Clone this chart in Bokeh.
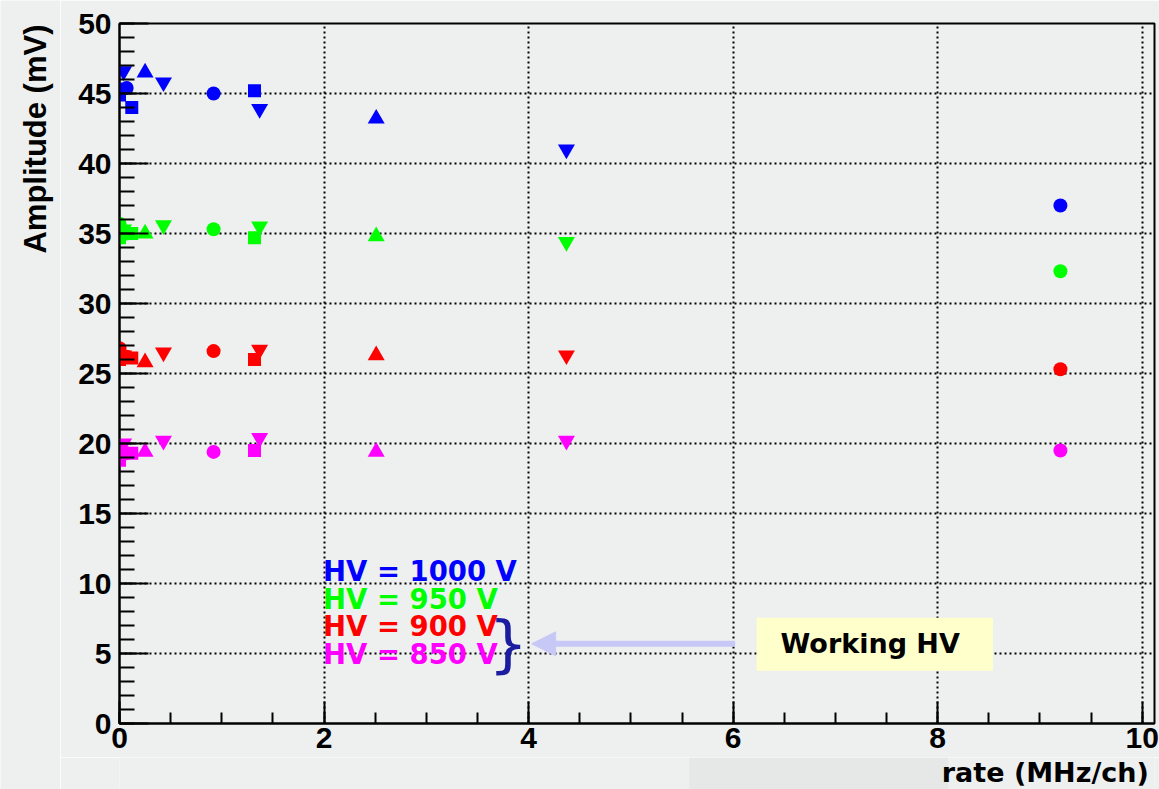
import math

from bokeh.plotting import figure
from bokeh.layouts import row, column
from bokeh.models import Label, Arrow, NormalHead, SingleIntervalTicker, Range1d, BoxAnnotation
from bokeh.core.properties import value
from bokeh.embed import file_html
from bokeh.resources import INLINE

# Measured signal amplitude versus hit rate, four HV settings.
# Each marker family is one measurement series; rows follow hv_labels order.
hv_labels = ["HV = 1000 V", "HV = 950 V", "HV = 900 V", "HV = 850 V"]
hv_colors = ["#0000ff", "#00ff00", "#ff0000", "#ff00ff"]

rate_circle = [0.0, 0.07, 0.92, 9.2]
amp_circle = [
    [45.3, 45.4, 45.0, 37.0],
    [35.7, 35.0, 35.3, 32.3],
    [26.8, 26.2, 26.6, 25.3],
    [19.5, 19.3, 19.4, 19.5],
]

rate_square = [0.0, 0.12, 1.32]
amp_square = [
    [44.9, 44.0, 45.2],
    [34.7, 35.0, 34.7],
    [26.0, 26.1, 26.0],
    [18.8, 19.3, 19.5],
]

rate_tri_up = [0.25, 2.51]
amp_tri_up = [
    [46.5, 43.2],
    [35.0, 34.8],
    [25.8, 26.3],
    [19.4, 19.4],
]

rate_tri_down = [0.04, 0.43, 1.37, 4.37]
amp_tri_down = [
    [46.6, 45.8, 43.9, 41.0],
    [35.3, 35.6, 35.5, 34.4],
    [26.3, 26.5, 26.7, 26.3],
    [20.0, 20.2, 20.4, 20.2],
]

x_title = "rate (MHz/ch)"
y_title = "Amplitude (mV)"
note_text = "Working HV"

BG = "#eef0f0"
FONT = "Liberation Sans"
WIDE = "DejaVu Sans"

W, H = 1159, 789
LEFT_W = 60           # strip holding the vertical title
BOTTOM_H = 32         # strip holding the horizontal title

# ---------------------------------------------------------------- main plot
p = figure(
    width=W - LEFT_W, height=H - BOTTOM_H,
    x_range=Range1d(0, 10.12), y_range=Range1d(0, 50),
    output_backend="svg", toolbar_location=None,
    min_border_left=119 - LEFT_W, min_border_right=5,
    min_border_top=23, min_border_bottom=34,
    background_fill_color=BG, border_fill_color=BG,
)
p.outline_line_color = "black"
p.outline_line_width = 2

# ROOT-style ticks drawn inside the frame
p.xaxis.ticker = SingleIntervalTicker(interval=2, num_minor_ticks=4)
p.yaxis.ticker = SingleIntervalTicker(interval=5, num_minor_ticks=5)
for ax in (p.xaxis, p.yaxis):
    ax.axis_line_color = "black"
    ax.axis_line_width = 2
    ax.major_tick_line_color = "black"
    ax.major_tick_line_width = 2
    ax.minor_tick_line_color = "black"
    ax.minor_tick_line_width = 2
    ax.major_tick_out = 0
    ax.minor_tick_out = 0
    ax.major_label_text_font = FONT
    ax.major_label_text_font_style = "bold"
    ax.major_label_text_font_size = "30px"
    ax.major_label_text_color = "black"
p.xaxis.major_tick_in = 22
p.xaxis.minor_tick_in = 11
p.xaxis.major_label_standoff = 4
p.yaxis.major_tick_in = 29
p.yaxis.minor_tick_in = 15
p.yaxis.major_label_standoff = 8

for g in (p.xgrid, p.ygrid):
    g.grid_line_color = "black"
    g.grid_line_width = 2
    g.grid_line_dash = "2 3"

# markers
families = [
    (rate_circle, amp_circle, "circle", 14),
    (rate_square, amp_square, "square", 13),
    (rate_tri_up, amp_tri_up, "triangle", 17),
    (rate_tri_down, amp_tri_down, "inverted_triangle", 17),
]
for rates, amps, marker, size in families:
    for color, vals in zip(hv_colors, amps):
        p.scatter(rates, vals, marker=marker, size=size,
                  fill_color=color, line_color=color, line_width=0)

# HV legend text
legend_y = [10.9, 8.9, 7.0, 5.0]
for txt, color, yy in zip(hv_labels, hv_colors, legend_y):
    p.add_layout(Label(x=1.99, y=yy, text=txt, text_color=color,
                       text_font=WIDE, text_font_style="bold",
                       text_font_size="27.5px", text_baseline="middle",
                       text_align="left"))

# brace grouping the two working settings
p.add_layout(Label(x=3.80, y=5.75, text="}", text_color="#1c1ca0",
                   text_font="DejaVu Sans", text_font_size="62px",
                   text_baseline="middle", text_align="center"))

# arrow pointing back to the brace
p.add_layout(Arrow(x_start=6.02, y_start=5.69, x_end=4.03, y_end=5.69,
                   line_color="#c8c8f6", line_width=6,
                   end=NormalHead(size=24, fill_color="#c8c8f6",
                                  line_color="#c8c8f6")))

# note box
p.add_layout(BoxAnnotation(left=6.23, right=8.54, bottom=3.76, top=7.55,
                           fill_color="#ffffcc", fill_alpha=1.0,
                           line_color=None))
p.add_layout(Label(x=7.34, y=5.70, text=note_text, text_color="black",
                   text_font="DejaVu Sans", text_font_style="bold",
                   text_font_size="27px", text_baseline="middle",
                   text_align="center"))

# ------------------------------------------------- vertical title strip
# ranges map one unit to one page pixel (y measured from the page top)
left = figure(
    width=LEFT_W, height=H,
    x_range=Range1d(0, LEFT_W), y_range=Range1d(H, 0),
    output_backend="svg", toolbar_location=None,
    x_axis_location=None, y_axis_location=None, min_border=0,
    background_fill_color=BG, border_fill_color=BG,
)
left.outline_line_color = None
left.grid.visible = False
left.text(x=[35], y=[24], text=[y_title], angle=math.pi / 2,
          text_align="right", text_baseline="middle",
          text_font=value(FONT), text_font_style="bold",
          text_font_size="31px", text_color="black")

# ----------------------------------------------- horizontal title strip
bottom = figure(
    width=W - LEFT_W, height=BOTTOM_H,
    x_range=Range1d(LEFT_W, W), y_range=Range1d(H, H - BOTTOM_H),
    output_backend="svg", toolbar_location=None,
    x_axis_location=None, y_axis_location=None, min_border=0,
    background_fill_color=BG, border_fill_color=BG,
)
bottom.outline_line_color = None
bottom.grid.visible = False
bottom.quad(left=[665], right=[940], top=[H - BOTTOM_H], bottom=[H],
            fill_color="#e6e7e7", line_color=None)
bottom.text(x=[1153], y=[772], text=[x_title],
            text_align="right", text_baseline="middle",
            text_font=value(WIDE), text_font_style="bold",
            text_font_size="27px", text_color="black")

layout = row(left, column(p, bottom, spacing=0), spacing=0)
open("out.html", "w").write(file_html(layout, INLINE))
